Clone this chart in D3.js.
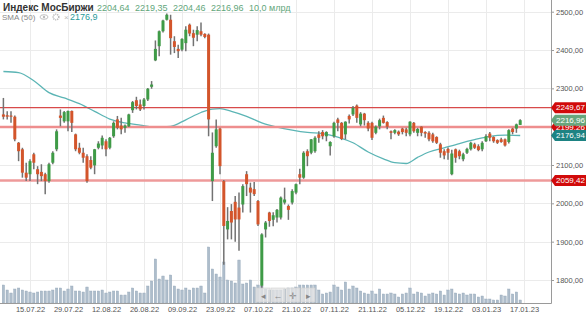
<!DOCTYPE html>
<html>
<head>
<meta charset="utf-8">
<script src="https://cdn.jsdelivr.net/npm/d3@7"></script>
<style>
  body { margin: 0; background: #fff; }
  svg { display: block; font-family: "Liberation Sans", Arial, sans-serif; }
</style>
</head>
<body>
<svg id="chart" width="586" height="313"></svg>
<script>
// trading days shown (one candle each)
const dates = [
  "06.07.22","07.07.22","08.07.22","11.07.22","12.07.22","13.07.22","14.07.22","15.07.22","18.07.22","19.07.22",
  "20.07.22","21.07.22","22.07.22","25.07.22","26.07.22","27.07.22","28.07.22","29.07.22","01.08.22","02.08.22",
  "03.08.22","04.08.22","05.08.22","08.08.22","09.08.22","10.08.22","11.08.22","12.08.22","15.08.22","16.08.22",
  "17.08.22","18.08.22","19.08.22","22.08.22","23.08.22","24.08.22","25.08.22","26.08.22","29.08.22","30.08.22",
  "31.08.22","01.09.22","02.09.22","05.09.22","06.09.22","07.09.22","08.09.22","09.09.22","12.09.22","13.09.22",
  "14.09.22","15.09.22","16.09.22","19.09.22","20.09.22","21.09.22","22.09.22","23.09.22","26.09.22","27.09.22",
  "28.09.22","29.09.22","30.09.22","03.10.22","04.10.22","05.10.22","06.10.22","07.10.22","10.10.22","11.10.22",
  "12.10.22","13.10.22","14.10.22","17.10.22","18.10.22","19.10.22","20.10.22","21.10.22","24.10.22","25.10.22",
  "26.10.22","27.10.22","28.10.22","31.10.22","01.11.22","02.11.22","03.11.22","07.11.22","08.11.22","09.11.22",
  "10.11.22","11.11.22","14.11.22","15.11.22","16.11.22","17.11.22","18.11.22","21.11.22","22.11.22","23.11.22",
  "24.11.22","25.11.22","28.11.22","29.11.22","30.11.22","01.12.22","02.12.22","05.12.22","06.12.22","07.12.22",
  "08.12.22","09.12.22","12.12.22","13.12.22","14.12.22","15.12.22","16.12.22","19.12.22","20.12.22","21.12.22",
  "22.12.22","23.12.22","26.12.22","27.12.22","28.12.22","29.12.22","30.12.22","03.01.23","04.01.23","05.01.23",
  "06.01.23","09.01.23","10.01.23","11.01.23","12.01.23","13.01.23","16.01.23"
];

const opens = [
  2232,2230,2229,2226,2158,2141,2080,2076,2128,2089, 2082,2076,2058,2106,2141,2229,2214,2214,2241,2180,
  2145,2132,2123,2113,2099,2145,2151,2162,2145,2175, 2219,2203,2197,2201,2243,2269,2258,2254,2271,2304,
  2373,2410,2449,2479,2479,2423,2403,2401,2418,2466, 2444,2440,2449,2442,2440,2058,2149,2195,2058,1932,
  1980,2004,1989,1997,2076,2041,2037,2006,1785,1932, 1976,1957,1963,1963,2002,1993,2002,2028,2076,2067,
  2136,2132,2136,2180,2186,2175,2149,2175,2219,2210, 2180,2228,2232,2255,2206,2234,2210,2210,2184,2201,
  2223,2212,2188,2184,2187,2195,2193,2180,2210,2184, 2200,2186,2184,2180,2173,2154,2136,2142,2076,2141,
  2136,2115,2132,2141,2154,2149,2141,2162,2182,2173, 2165,2167,2167,2160,2195,2195,2204.64
];
const highs = [
  2275,2240,2240,2229,2160,2145,2106,2115,2132,2097, 2102,2080,2106,2136,2193,2245,2241,2242,2242,2182,
  2158,2145,2128,2123,2142,2162,2177,2167,2173,2214, 2228,2223,2206,2234,2267,2278,2271,2275,2301,2319,
  2425,2451,2479,2495,2492,2436,2414,2431,2462,2469, 2453,2462,2472,2444,2443,2185,2219,2197,2061,1990,
  1998,2019,2028,2050,2084,2054,2056,2009,1922,1954, 1978,1977,1985,2018,2041,1997,2037,2052,2090,2136,
  2141,2168,2175,2188,2191,2188,2162,2213,2223,2212, 2214,2232,2254,2258,2238,2236,2214,2213,2203,2221,
  2229,2214,2190,2193,2190,2197,2197,2214,2212,2197, 2201,2188,2188,2184,2175,2158,2141,2146,2140,2143,
  2140,2132,2145,2161,2158,2154,2162,2180,2186,2175, 2167,2171,2169,2193,2197,2208,2219.35
];
const lows = [
  2219,2219,2210,2162,2110,2067,2058,2058,2089,2050, 2058,2024,2054,2102,2136,2201,2210,2188,2186,2136,
  2128,2106,2054,2089,2076,2141,2141,2123,2141,2171, 2193,2180,2184,2199,2236,2245,2241,2245,2267,2299,
  2371,2384,2446,2477,2388,2392,2379,2397,2397,2436, 2410,2423,2436,2431,2175,2006,2145,2076,1840,1906,
  1906,1900,1876,1976,2019,1976,2019,1941,1778,1911, 1939,1940,1950,1958,1997,1957,1997,2024,2050,2064,
  2097,2128,2132,2158,2167,2162,2125,2171,2188,2165, 2167,2208,2228,2210,2201,2203,2188,2165,2180,2193,
  2208,2193,2167,2180,2176,2180,2175,2175,2184,2175, 2175,2171,2162,2158,2155,2119,2115,2114,2073,2106,
  2115,2110,2129,2138,2142,2136,2136,2160,2162,2158, 2155,2158,2148,2156,2180,2184,2204.46
];
const closes = [
  2226,2226,2226,2167,2136,2080,2067,2110,2106,2076, 2071,2058,2102,2132,2188,2223,2238,2241,2210,2141,
  2132,2119,2058,2093,2141,2156,2171,2141,2171,2210, 2197,2193,2203,2232,2264,2254,2245,2271,2299,2310,
  2403,2449,2477,2492,2431,2408,2397,2429,2453,2443, 2432,2452,2440,2434,2219,2132,2193,2097,1941,1954,
  1950,1958,1958,2045,2050,2028,2024,1945,1919,1950, 1954,1969,1983,2015,2010,1983,2032,2050,2067,2132,
  2123,2167,2171,2171,2175,2186,2160,2210,2210,2168, 2213,2219,2249,2223,2234,2217,2195,2171,2200,2217,
  2210,2200,2184,2191,2180,2186,2184,2213,2188,2194, 2184,2182,2167,2162,2158,2132,2125,2132,2130,2119,
  2123,2128,2142,2158,2145,2139,2158,2175,2171,2162, 2158,2160,2151,2191,2186,2206,2216.96
];
// turnover, bn rub
const volumes = [
  18,13,10,14,15,13,12,11,10,11, 12,12,12,13,15,15,12,14,17,12,
  12,11,16,12,12,12,13,10,11,12, 12,8,8,11,15,12,10,10,17,22,
  44,24,27,23,28,17,14,13,15,13, 15,15,17,10,56,34,29,26,41,23,
  22,20,43,19,20,23,16,18,17,14, 13,13,13,13,14,15,15,16,18,18,
  18,18,18,13,9,10,11,18,16,13, 21,14,17,15,12,10,9,12,9,14,
  9,9,10,9,6,9,10,15,9,11, 10,7,9,10,9,12,8,13,14,10,
  9,10,8,9,9,6,7,4,4,3, 3,8,7,14,9,11,3
];

// SMA(50) read at some candles
const smaIdx = [0,4,8,12,16,20,24,28,32,36,40,44,48,52,55,57,60,64,68,72,76,80,84,88,92,96,100,103,106,109,112,116,120,124,128,132,136];
const smaVal = [2344,2341,2320,2289,2275,2260,2240,2220,2210,2204,2199,2201,2218,2237,2246,2247,2240,2227,2210,2199,2191,2185,2182,2173,2158,2134,2116,2106,2104,2120,2134,2145,2156,2166,2175,2178,2176.94];

const priceTicks = [1800, 1900, 2000, 2100, 2200, 2300, 2400, 2500];
const dateTicks = ["15.07.22","29.07.22","12.08.22","26.08.22","09.09.22","23.09.22","07.10.22",
                   "21.10.22","07.11.22","21.11.22","05.12.22","19.12.22","03.01.23","17.01.23"];

const levels = [2249.67, 2199.26, 2059.42];
const lastClose = 2216.96;
const lastSma = 2176.94;

// ---- layout
const plotRight = 551, plotBottom = 303;
const svg = d3.select("#chart");

const x = d3.scaleLinear().domain([0, dates.length]).range([3.4, 524]);
const y = d3.scaleLinear().domain([1800, 2500]).range([280, 11.7]);
const yVol = d3.scaleLinear().domain([0, 60]).range([plotBottom, plotBottom - 60]);
const fmt = v => d3.format(".2f")(v).replace(".", ",");

const tickIdx = dateTicks.map(t => {
  const i = dates.indexOf(t);
  return i < 0 ? dates.length : i;
});

// grid
const grid = svg.append("g").attr("stroke", "#ebebeb").attr("stroke-width", 1);
grid.selectAll(".hg").data(priceTicks).enter().append("line")
  .attr("x1", 0).attr("x2", plotRight)
  .attr("y1", d => Math.round(y(d)) + 0.5).attr("y2", d => Math.round(y(d)) + 0.5);
grid.selectAll(".vg").data(tickIdx).enter().append("line")
  .attr("x1", d => Math.round(x(d)) + 0.5).attr("x2", d => Math.round(x(d)) + 0.5)
  .attr("y1", 0).attr("y2", plotBottom);

// volume
svg.append("g").selectAll("rect").data(volumes).enter().append("rect")
  .attr("x", (d, i) => x(i) - 1.2)
  .attr("y", d => yVol(d))
  .attr("width", 2.4)
  .attr("height", d => plotBottom - yVol(d))
  .attr("fill", "#aebdcb")
  .attr("stroke", "#95a7b8")
  .attr("stroke-width", 0.4);

// SMA line
const smaPts = smaIdx.map((d, k) => [d, smaVal[k]]);
svg.append("path")
  .datum(smaPts)
  .attr("fill", "none")
  .attr("stroke", "#5cb5b5")
  .attr("stroke-width", 1.3)
  .attr("d", d3.line().curve(d3.curveMonotoneX).x(d => x(d[0])).y(d => y(d[1])));

// support / resistance levels
const levelStyle = [
  { c: "#d84a4a", w: 1.2 },
  { c: "#ee8e8e", w: 2.4 },
  { c: "#ee9a9a", w: 2.4 }
];
svg.append("g").selectAll("line").data(levels).enter().append("line")
  .attr("x1", 0).attr("x2", plotRight)
  .attr("y1", d => y(d)).attr("y2", d => y(d))
  .attr("stroke", (d, i) => levelStyle[i].c)
  .attr("stroke-width", (d, i) => levelStyle[i].w);

// candles
const candles = svg.append("g");
dates.forEach((d, i) => {
  const up = closes[i] >= opens[i];
  candles.append("line")
    .attr("x1", x(i)).attr("x2", x(i))
    .attr("y1", y(highs[i])).attr("y2", y(lows[i]))
    .attr("stroke", "#727272")
    .attr("stroke-width", 1.5);
  const top = y(Math.max(opens[i], closes[i]));
  const bot = y(Math.min(opens[i], closes[i]));
  candles.append("rect")
    .attr("x", x(i) - 1.5)
    .attr("y", top)
    .attr("width", 3)
    .attr("height", Math.max(1, bot - top))
    .attr("fill", up ? "#3f9b47" : "#d3552b");
});

// axes frame
svg.append("line").attr("x1", plotRight + 0.5).attr("x2", plotRight + 0.5)
  .attr("y1", 0).attr("y2", plotBottom + 0.5).attr("stroke", "#9a9a9a");
svg.append("line").attr("x1", 0).attr("x2", plotRight + 0.5)
  .attr("y1", plotBottom + 0.5).attr("y2", plotBottom + 0.5).attr("stroke", "#9a9a9a");

const yAxis = svg.append("g")
  .attr("transform", `translate(${plotRight},0)`)
  .call(d3.axisRight(y).tickValues(priceTicks).tickFormat(fmt).tickSize(3).tickPadding(2));
yAxis.select(".domain").remove();
yAxis.selectAll("line").attr("stroke", "#9a9a9a");
yAxis.selectAll("text").attr("fill", "#555").style("font-size", "7.5px");

const xAxis = svg.append("g")
  .attr("transform", `translate(0,${plotBottom})`)
  .call(d3.axisBottom(x).tickValues(tickIdx).tickFormat((d, i) => dateTicks[i]).tickSize(0).tickPadding(4));
xAxis.select(".domain").remove();
xAxis.selectAll("text").attr("fill", "#555").style("font-size", "7.5px");

// price tags on the right
function tag(v, color) {
  const yc = y(v);
  const g = svg.append("g");
  g.append("path")
    .attr("d", `M${plotRight},${yc} L${plotRight + 4},${yc - 5.5} L586,${yc - 5.5} L586,${yc + 5.5} L${plotRight + 4},${yc + 5.5} Z`)
    .attr("fill", color);
  g.append("text")
    .attr("x", plotRight + 5).attr("y", yc + 2.8)
    .attr("fill", "#fff").style("font-size", "8px")
    .text(fmt(v));
}
tag(levels[0], "#d10a0a");
tag(levels[2], "#d10a0a");
tag(levels[1], "#d10a0a");
tag(lastSma, "#1d8383");
tag(lastClose, "#68a67c");

// scroll widget
const nav = svg.append("g").attr("transform", "translate(256,288)");
["\u25C2", "\u2190", "\u271B", "\u25B8"].forEach((s, k) => {
  nav.append("rect").attr("x", k * 15).attr("y", 0).attr("width", 14).attr("height", 14)
    .attr("fill", "#e6e6e6").attr("fill-opacity", 0.75).attr("stroke", "#cfcfcf").attr("stroke-width", 0.6);
  nav.append("text").attr("x", k * 15 + 7).attr("y", 10.5).attr("text-anchor", "middle")
    .attr("fill", "#888").style("font-size", "9px").text(s);
});

// header
svg.append("text").attr("x", 3).attr("y", 10.5)
  .attr("fill", "#333").style("font-size", "10px").style("font-weight", "bold")
  .text("Индекс МосБиржи");
const headVals = ["2204,64", "2219,35", "2204,46", "2216,96", "10,0 млрд"];
const headX = [97, 135, 173, 211, 249];
headVals.forEach((t, k) => {
  svg.append("text").attr("x", headX[k]).attr("y", 10.5)
    .attr("fill", "#62a67b").style("font-size", "9px").text(t);
});
svg.append("text").attr("x", 2).attr("y", 20)
  .attr("fill", "#888").style("font-size", "8px").text("SMA (50)");
// eye, gear, close icons
svg.append("ellipse").attr("cx", 44).attr("cy", 17).attr("rx", 4).attr("ry", 2.3)
  .attr("fill", "none").attr("stroke", "#bbb").attr("stroke-width", 0.9);
svg.append("circle").attr("cx", 44).attr("cy", 17).attr("r", 1.2).attr("fill", "#bbb");
svg.append("circle").attr("cx", 56).attr("cy", 17).attr("r", 2.8)
  .attr("fill", "none").attr("stroke", "#bbb").attr("stroke-width", 1.6).attr("stroke-dasharray", "1.2 0.8");
svg.append("text").attr("x", 64).attr("y", 20).attr("fill", "#bbb").style("font-size", "8px").text("×");
svg.append("text").attr("x", 70).attr("y", 20)
  .attr("fill", "#2a9a9a").style("font-size", "9px").text("2176,9");
</script>
</body>
</html>
